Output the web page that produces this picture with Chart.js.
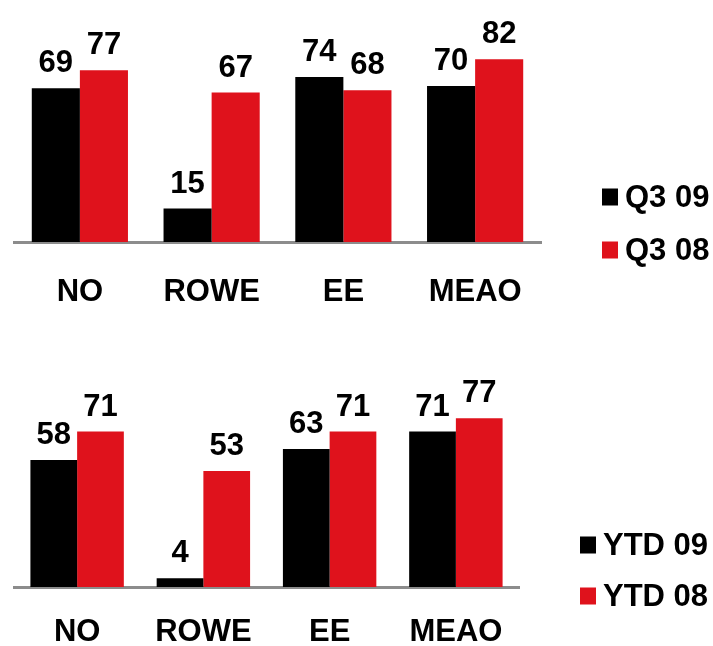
<!DOCTYPE html>
<html>
<head>
<meta charset="utf-8">
<script src="https://cdn.jsdelivr.net/npm/chart.js@4/dist/chart.umd.min.js"></script>
<style>
  html, body { margin: 0; padding: 0; background: #ffffff; }
  body { width: 713px; height: 646px; position: relative; overflow: hidden; }
  .wrap { position: absolute; left: 0; width: 713px; }
  #w1 { top: 0; height: 360px; }
  #w2 { top: 325px; height: 353px; }
</style>
</head>
<body>
<div class="wrap" id="w1"><canvas id="c1" width="713" height="360"></canvas></div>
<div class="wrap" id="w2"><canvas id="c2" width="713" height="353"></canvas></div>
<script>
const categories = ['NO', 'ROWE', 'EE', 'MEAO'];
const q3_09 = [69, 15, 74, 70];
const q3_08 = [77, 67, 68, 82];
const ytd_09 = [58, 4, 63, 71];
const ytd_08 = [71, 53, 71, 77];
const seriesLabelsTop = ['Q3 09', 'Q3 08'];
const seriesLabelsBottom = ['YTD 09', 'YTD 08'];

const BLACK = '#000000';
const RED = '#df121c';
const AXIS = '#8c8c8c';
const FONT = '"Liberation Sans", Arial, sans-serif';
const FSIZE = 31;

const valueLabels = {
  id: 'valueLabels',
  afterDatasetsDraw(chart) {
    const ctx = chart.ctx;
    ctx.save();
    ctx.fillStyle = '#000';
    ctx.font = 'bold ' + FSIZE + 'px ' + FONT;
    ctx.textAlign = 'center';
    ctx.textBaseline = 'alphabetic';
    chart.data.datasets.forEach((ds, i) => {
      const meta = chart.getDatasetMeta(i);
      meta.data.forEach((el, j) => {
        ctx.fillText(String(ds.data[j]), el.x, el.y - 16);
      });
    });
    ctx.restore();
  }
};

const sideLegend = {
  id: 'sideLegend',
  afterDraw(chart, args, opts) {
    const ctx = chart.ctx;
    ctx.save();
    ctx.font = 'bold ' + FSIZE + 'px ' + FONT;
    ctx.textAlign = 'left';
    ctx.textBaseline = 'middle';
    chart.data.datasets.forEach((ds, i) => {
      const cy = opts.ys[i];
      ctx.fillStyle = ds.backgroundColor;
      ctx.fillRect(opts.boxX, cy - 8.5, 16, 17);
      ctx.fillStyle = '#000';
      ctx.fillText(ds.label, opts.textX, cy + 1);
    });
    ctx.restore();
  }
};

function makeChart(canvasId, d1, d2, labels, pad, tickPad, catPct, legendOpts) {
  return new Chart(document.getElementById(canvasId), {
    type: 'bar',
    data: {
      labels: categories,
      datasets: [
        { label: labels[0], data: d1, backgroundColor: BLACK, borderWidth: 0 },
        { label: labels[1], data: d2, backgroundColor: RED, borderWidth: 0 }
      ]
    },
    options: {
      responsive: false,
      animation: false,
      events: [],
      layout: { padding: pad },
      plugins: {
        legend: { display: false },
        tooltip: { enabled: false },
        sideLegend: legendOpts
      },
      datasets: { bar: { categoryPercentage: catPct, barPercentage: 1.0 } },
      scales: {
        x: {
          grid: { display: false, drawTicks: false },
          border: { display: true, color: AXIS, width: 3 },
          ticks: {
            color: '#000',
            padding: tickPad,
            maxRotation: 0,
            font: { family: FONT, size: FSIZE, weight: 'bold', lineHeight: 1 }
          }
        },
        y: {
          display: false,
          min: 0,
          max: 100
        }
      }
    },
    plugins: [valueLabels, sideLegend]
  });
}

makeChart('c1', q3_09, q3_08, seriesLabelsTop,
  { top: 19, left: 14, right: 172, bottom: 17 }, 35, 0.73,
  { boxX: 602, textX: 625, ys: [197, 250] });

makeChart('c2', ytd_09, ytd_08, seriesLabelsBottom,
  { top: 43, left: 14, right: 194, bottom: 0 }, 30, 0.74,
  { boxX: 580, textX: 603, ys: [220, 271] });
</script>
</body>
</html>
